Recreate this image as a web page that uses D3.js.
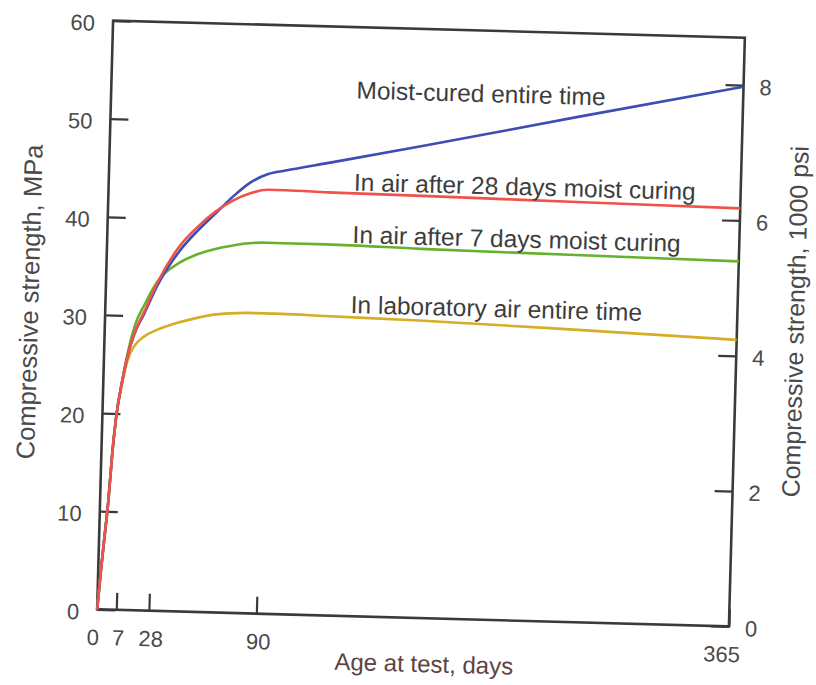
<!DOCTYPE html>
<html>
<head>
    <title>Compressive strength vs age</title>
    <script src="https://d3js.org/d3.v7.min.js"></script>
    <style>
        body { margin: 0; background: #fff; }
        svg { font-family: "Liberation Sans", Arial, Helvetica, sans-serif; }
    </style>
</head>
<body>
    <div id="chart"></div>

    <script>
        // Data (MPa at each age, days)
        const days       = [0, 1, 2,   3,  4,  5,    7,    10,   14,   20,   28,   40,   50,   60,   70,   80,   90,   100,  125,  180,  270,  365];
        const moistCured = [0, 4, 7.5, 11, 16, 19.5, 23.5, 26.0, 28.2, 30.3, 33.2, 36.7, 38.8, 40.6, 42.4, 43.9, 44.8, 45.2, 46.1, 48.1, 51.5, 55.0];
        const air28      = [0, 4, 7.5, 11, 16, 19.5, 23.5, 26.0, 28.3, 30.5, 33.5, 37.2, 39.2, 40.8, 42.0, 42.8, 43.2, 43.2, 43.1, 43.0, 42.8, 42.6];
        const air7       = [0, 4, 7.5, 11, 16, 19.5, 23.5, 26.3, 29.0, 31.2, 33.6, 35.5, 36.4, 37.0, 37.4, 37.7, 37.8, 37.8, 37.8, 37.6, 37.4, 37.2];
        const labAir     = [0, 4, 7.5, 11, 16, 19.5, 23.2, 25.5, 26.9, 27.9, 28.6, 29.4, 29.9, 30.3, 30.5, 30.6, 30.6, 30.6, 30.5, 30.3, 29.8, 29.2];

        const seriesNames = ["In laboratory air entire time", "In air after 7 days moist curing",
                             "Moist-cured entire time", "In air after 28 days moist curing"];
        const seriesValues = [labAir, air7, moistCured, air28];
        const seriesColors = ["#d6ad26", "#66b22e", "#3d4db3", "#f0524a"];

        const mpaTicks = [0, 10, 20, 30, 40, 50, 60];
        const psiTicks = [0, 2, 4, 6, 8];
        const dayTicks = [0, 7, 28, 90, 365];

        // label anchors (day, MPa) for the curve names
        const labelDays = [140, 140, 140, 140];
        const labelMpa  = [30.87, 38.01, 52.72, 43.34];

        // Kích thước
        const W = 816, H = 685;
        const margin = { left: 105, top: 29, right: 79, bottom: 67 };
        const width = W - margin.left - margin.right;
        const height = H - margin.top - margin.bottom;

        // x axis of the original is not linear: ticks are spaced by hand
        const x = d3.scaleLinear()
            .domain([0, 7, 28, 90, 365])
            .range([0, 0.0303, 0.0819, 0.252, 1].map(f => f * width));
        const y = d3.scaleLinear().domain([0, 60]).range([height, 0]);
        const yPsi = d3.scaleLinear().domain([0, 60 / 6.895]).range([height, 0]);

        const svg = d3.select("#chart").append("svg")
            .attr("width", W).attr("height", H);

        // the scan is tilted slightly
        const root = svg.append("g")
            .attr("transform", `rotate(1.55, ${margin.left + width / 2}, ${margin.top + height / 2})`);
        const g = root.append("g")
            .attr("transform", `translate(${margin.left},${margin.top})`);

        const axisColor = "#3a3a3a";
        const textColor = "#4a4a4a";

        // left axis
        const left = g.append("g")
            .call(d3.axisLeft(y).tickValues(mpaTicks).tickSize(-18).tickPadding(18).tickFormat(d3.format("d")));
        // right axis
        const right = g.append("g")
            .attr("transform", `translate(${width},0)`)
            .call(d3.axisRight(yPsi).tickValues(psiTicks).tickSize(-18).tickPadding(16).tickFormat(d3.format("d")));
        // bottom axis
        const bottom = g.append("g")
            .attr("transform", `translate(0,${height})`)
            .call(d3.axisBottom(x).tickValues(dayTicks).tickSize(-17).tickPadding(20).tickFormat(d3.format("d")));

        [left, right, bottom].forEach(a => {
            a.select(".domain").remove();
            a.selectAll(".tick line").attr("stroke", axisColor).attr("stroke-width", 2.2);
            a.selectAll(".tick text").attr("fill", textColor).style("font-size", "22px");
        });
        left.selectAll(".tick text").attr("dy", "0.45em");
        right.selectAll(".tick text").attr("dy", "0.4em");
        bottom.selectAll(".tick text").attr("dx", d => d === 0 ? -4 : d === 365 ? -7 : 2);

        // frame
        g.append("rect")
            .attr("width", width).attr("height", height)
            .attr("fill", "none")
            .attr("stroke", axisColor)
            .attr("stroke-width", 2.6);

        // lines
        const line = d3.line()
            .x((d, i) => x(days[i]))
            .y(d => y(d))
            .curve(d3.curveMonotoneX);

        g.selectAll(".series")
            .data(seriesValues)
            .join("path")
            .attr("class", "series")
            .attr("d", line)
            .attr("fill", "none")
            .attr("stroke", (d, i) => seriesColors[i])
            .attr("stroke-width", 2.6)
            .attr("stroke-linejoin", "round");

        // curve names
        g.selectAll(".name")
            .data(seriesNames)
            .join("text")
            .attr("class", "name")
            .attr("x", (d, i) => x(labelDays[i]))
            .attr("y", (d, i) => y(labelMpa[i]))
            .attr("fill", "#3d3d3d")
            .style("font-size", "24.5px")
            .text(d => d);

        // axis titles
        g.append("text")
            .attr("x", width / 2 + 12)
            .attr("y", height + 54)
            .attr("text-anchor", "middle")
            .attr("fill", "#5e4444")
            .style("font-size", "24px")
            .text("Age at test, days");

        g.append("text")
            .attr("transform", `translate(${-76},${height / 2 - 11}) rotate(-90)`)
            .attr("text-anchor", "middle")
            .attr("dy", "0.35em")
            .attr("fill", textColor)
            .style("font-size", "25.5px")
            .text("Compressive strength, MPa");

        g.append("text")
            .attr("transform", `translate(${width + 58},${height / 2 - 12}) rotate(-90)`)
            .attr("text-anchor", "middle")
            .attr("dy", "0.35em")
            .attr("fill", textColor)
            .style("font-size", "25px")
            .text("Compressive strength, 1000 psi");
    </script>
</body>
</html>
